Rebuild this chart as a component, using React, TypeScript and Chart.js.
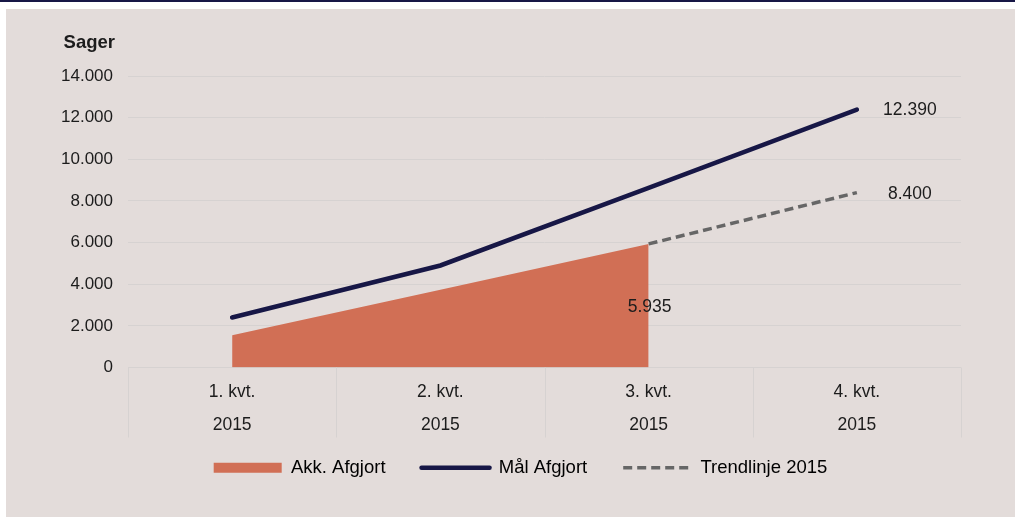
import React, { useEffect, useRef } from "react";
import { Chart, registerables } from "chart.js";

Chart.register(...registerables);

const categories: string[][] = [
  ["1. kvt.", "2015"],
  ["2. kvt.", "2015"],
  ["3. kvt.", "2015"],
  ["4. kvt.", "2015"],
];
const akkAfgjort: (number | null)[] = [1550, 3740, 5935, null];
const maalAfgjort: number[] = [2400, 4900, 8630, 12390];
const trendlinje: (number | null)[] = [null, null, 5935, 8400];
const seriesNames = ["Akk. Afgjort", "Mål Afgjort", "Trendlinje 2015"];
const yTicks = { min: 0, max: 14000, step: 2000 };
const axisTitle = "Sager";

const ORANGE = "#d16f55";
const NAVY = "#171746";
const GRAY = "#666666";
const BG = "#e3dcda";
const GRID = "#d6d2d1";
const TEXT = "#1c1c1c";
const FONT = "'Liberation Sans', Arial, sans-serif";

const fmt = (v: number) =>
  String(Math.round(v)).replace(/\B(?=(\d{3})+(?!\d))/g, ".");

const labelPlugin = {
  id: "valueLabels",
  afterLayout(chart: any) {
    const lg = chart.legend;
    if (!lg) return;
    const dy = chart.chartArea.bottom + 55 - lg.top;
    lg.top += dy;
    lg.bottom += dy;
    lg.left += 16;
    lg.right += 16;
  },
  afterDatasetsDraw(chart: any) {
    const ctx = chart.ctx;
    const xs = chart.scales.x;
    const ys = chart.scales.y;
    const area = chart.chartArea;
    ctx.save();
    // category separators
    ctx.strokeStyle = GRID;
    ctx.lineWidth = 1;
    const n = categories.length;
    const half = (xs.getPixelForValue(1) - xs.getPixelForValue(0)) / 2;
    for (let i = 0; i <= n; i++) {
      const x = Math.round(xs.getPixelForValue(0) - half + i * 2 * half) + 0.5;
      ctx.beginPath();
      ctx.moveTo(x, area.bottom);
      ctx.lineTo(x, area.bottom + 70);
      ctx.stroke();
    }
    ctx.font = `17.5px ${FONT}`;
    ctx.fillStyle = TEXT;
    ctx.textAlign = "center";
    ctx.textBaseline = "middle";
    const last = n - 1;
    const m = maalAfgjort[last];
    ctx.fillText(fmt(m), xs.getPixelForValue(last) + 53, ys.getPixelForValue(m) + 1);
    const t = trendlinje[last] as number;
    ctx.fillText(fmt(t), xs.getPixelForValue(last) + 53, ys.getPixelForValue(t) + 2);
    const ai = 2;
    const a = akkAfgjort[ai] as number;
    ctx.fillText(fmt(a), xs.getPixelForValue(ai) + 1, ys.getPixelForValue(a) + 63);
    // axis title
    ctx.font = `bold 18.5px ${FONT}`;
    ctx.textAlign = "right";
    ctx.fillText(axisTitle, ys.right - 13, ys.getPixelForValue(yTicks.max) - 33);
    ctx.restore();
  },
};

export default function App() {
  const ref = useRef<HTMLCanvasElement | null>(null);
  useEffect(() => {
    document.body.style.margin = "0";
    const canvas = ref.current;
    if (!canvas) return;
    const chart = new Chart(canvas, {
      type: "line",
      data: {
        labels: categories,
        datasets: [
          {
            label: seriesNames[0],
            data: akkAfgjort,
            backgroundColor: ORANGE,
            borderColor: ORANGE,
            borderWidth: 0,
            fill: "origin",
            pointRadius: 0,
            tension: 0,
            order: 3,
          },
          {
            label: seriesNames[1],
            data: maalAfgjort,
            borderColor: NAVY,
            backgroundColor: NAVY,
            borderWidth: 4.5,
            borderCapStyle: "round",
            fill: false,
            pointRadius: 0,
            tension: 0,
            order: 1,
          },
          {
            label: seriesNames[2],
            data: trendlinje,
            borderColor: GRAY,
            backgroundColor: GRAY,
            borderWidth: 3.5,
            borderDash: [9, 5],
            fill: false,
            pointRadius: 0,
            tension: 0,
            order: 2,
          },
        ],
      },
      options: {
        animation: false,
        responsive: false,
        maintainAspectRatio: false,
        layout: { padding: { left: 42, right: 54, top: 67, bottom: 15 } },
        plugins: {
          tooltip: { enabled: false },
          legend: {
            position: "bottom",
            labels: {
              usePointStyle: true,
              pointStyleWidth: 68,
              boxHeight: 10,
              padding: 36,
              color: TEXT,
              font: { family: FONT, size: 18.5 },
              generateLabels: () => [
                {
                  text: seriesNames[0],
                  pointStyle: "rect",
                  fillStyle: ORANGE,
                  strokeStyle: ORANGE,
                  lineWidth: 0,
                  datasetIndex: 0,
                },
                {
                  text: seriesNames[1],
                  pointStyle: "line",
                  fillStyle: NAVY,
                  strokeStyle: NAVY,
                  lineWidth: 4.5,
                  lineCap: "round",
                  datasetIndex: 1,
                },
                {
                  text: seriesNames[2],
                  pointStyle: "line",
                  fillStyle: GRAY,
                  strokeStyle: GRAY,
                  lineWidth: 3.5,
                  lineDash: [9, 5],
                  datasetIndex: 2,
                },
              ] as any,
            },
          },
        },
        scales: {
          x: {
            offset: true,
            afterFit: (s: any) => {
              s.height = 70;
            },
            grid: { display: false },
            border: { display: false },
            ticks: {
              color: TEXT,
              padding: 0,
              autoSkip: false,
              maxRotation: 0,
              font: { family: FONT, size: 17.5, lineHeight: 1.886 },
            },
          },
          y: {
            min: yTicks.min,
            max: yTicks.max,
            afterFit: (s: any) => {
              s.width = 80;
            },
            border: { display: false },
            grid: { color: GRID, drawTicks: false },
            ticks: {
              stepSize: yTicks.step,
              color: TEXT,
              padding: 15,
              font: { family: FONT, size: 17 },
              callback: (v: any) => fmt(Number(v)),
            },
          },
        },
      },
      plugins: [labelPlugin],
    } as any);
    return () => chart.destroy();
  }, []);

  return (
    <div style={{ position: "relative", width: 1015, height: 517, background: "#ffffff", overflow: "hidden" }}>
      <div style={{ position: "absolute", left: 0, top: 0, width: 1015, height: 2, background: NAVY }} />
      <div style={{ position: "absolute", left: 6, top: 9, width: 1009, height: 508, background: BG }}>
        <canvas ref={ref} width={1009} height={508} style={{ display: "block", width: 1009, height: 508 }} />
      </div>
    </div>
  );
}
